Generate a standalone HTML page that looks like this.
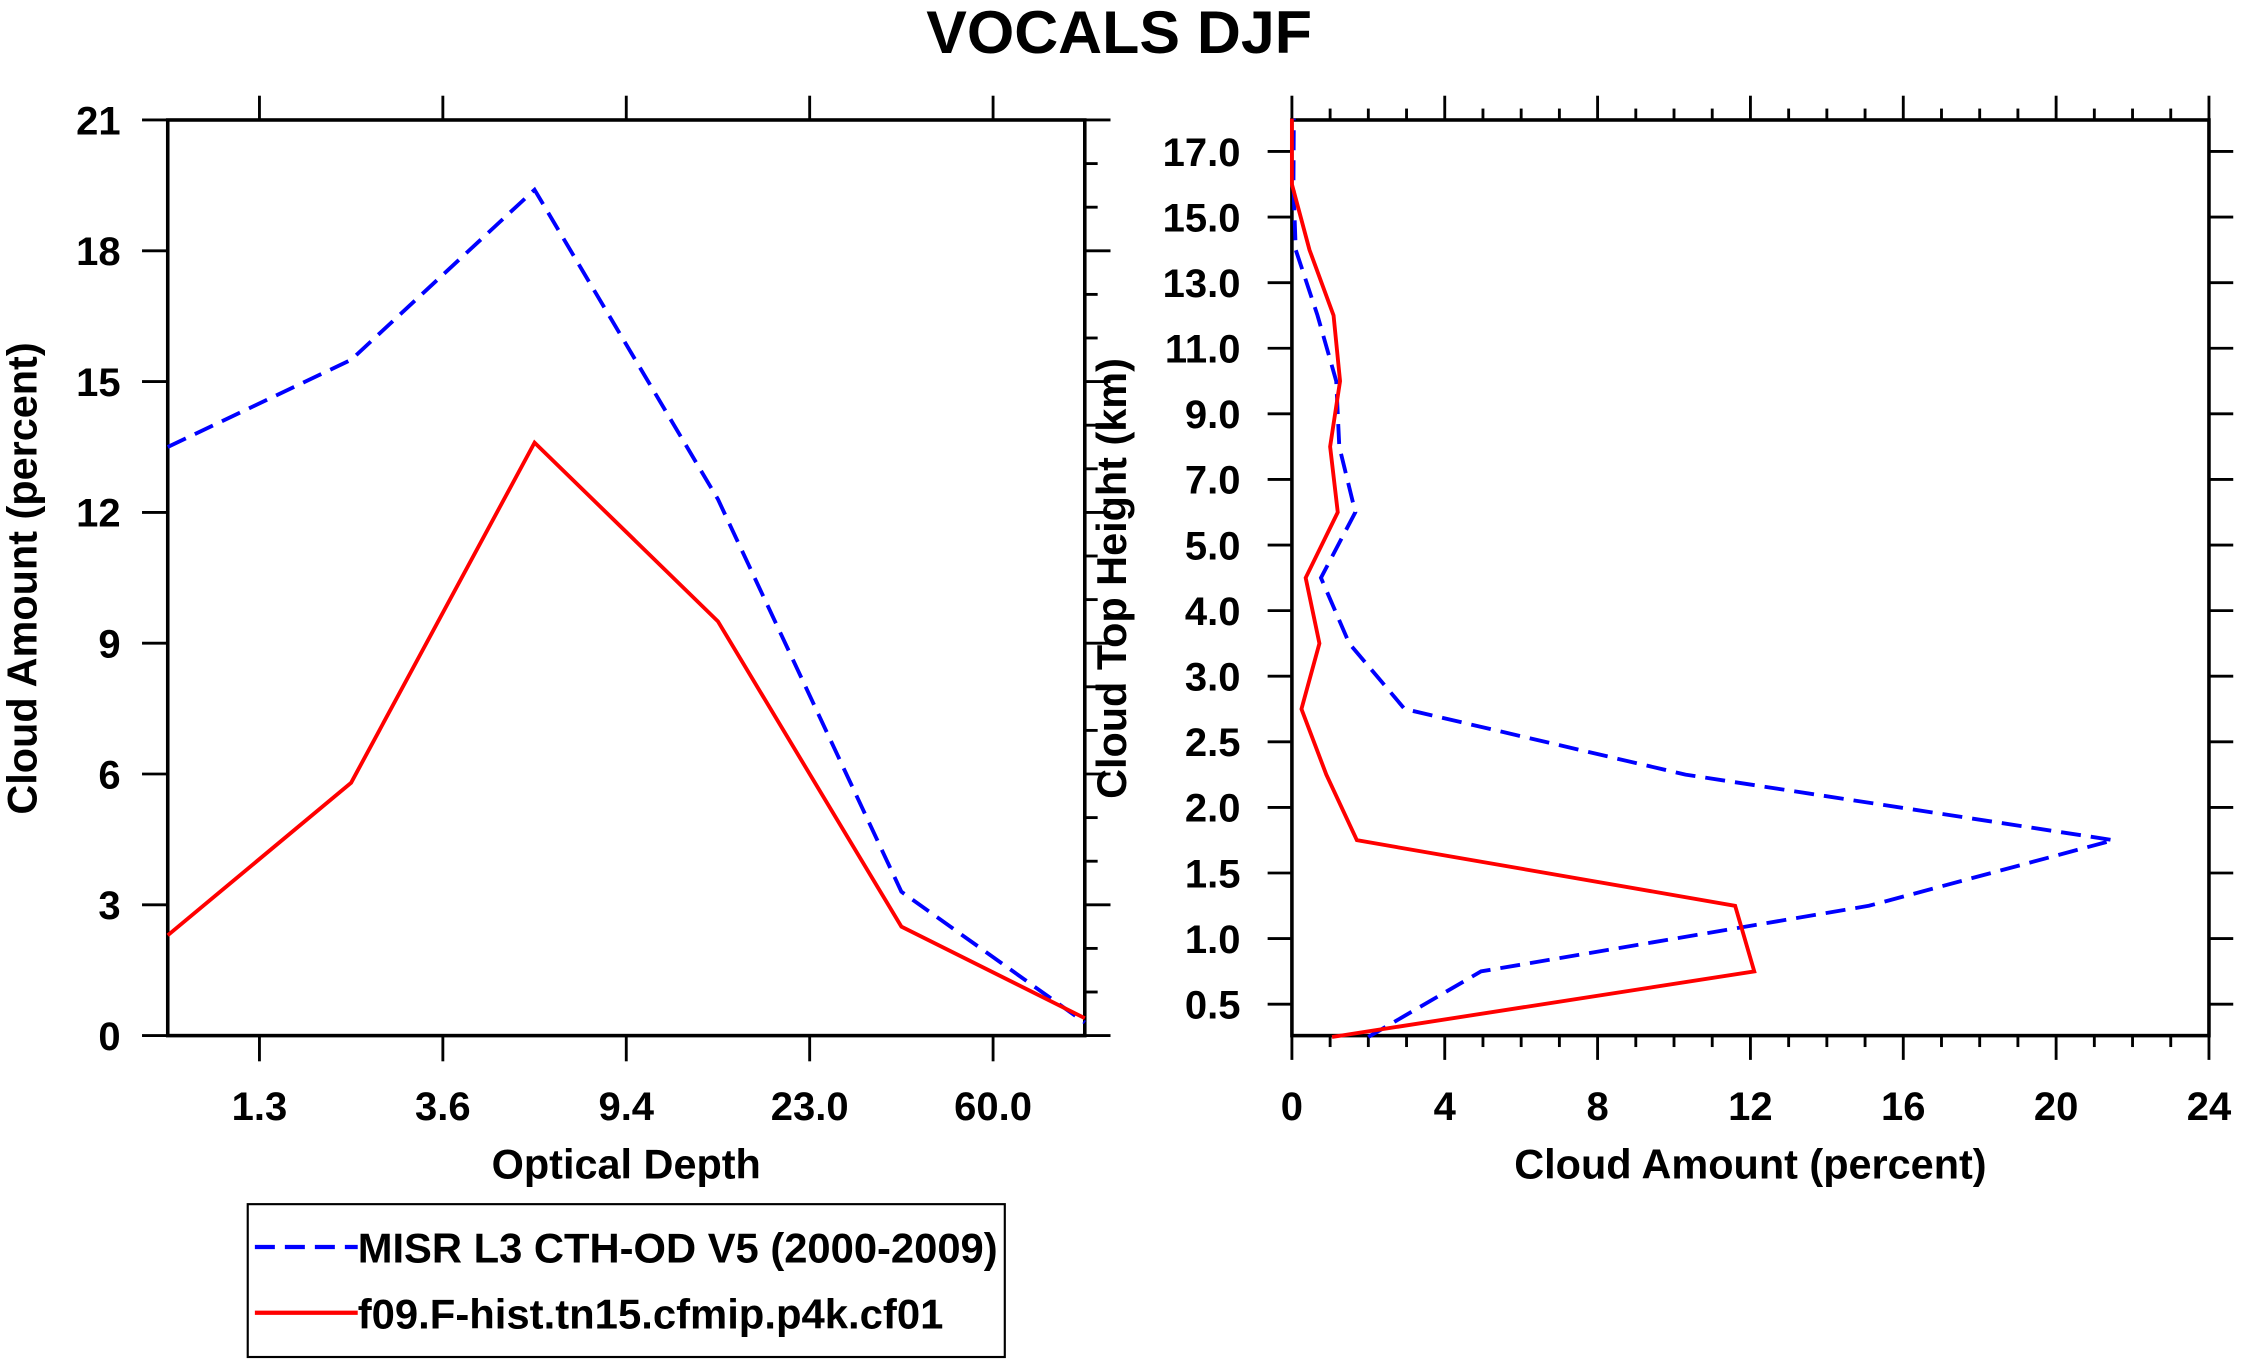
<!DOCTYPE html>
<html><head><meta charset="utf-8"><style>
html,body{margin:0;padding:0;background:#fff}
svg{display:block}
text{font-family:"Liberation Sans",sans-serif;font-weight:bold;fill:#000}
</style></head><body>
<svg id="chart" xmlns="http://www.w3.org/2000/svg" width="2241" height="1367" viewBox="0 0 1568 957">
<text x="783" y="37" text-anchor="middle" font-size="42" textLength="270" lengthAdjust="spacingAndGlyphs">VOCALS DJF</text>
<g id="left"></g>
<g id="right"></g>
<g>
<rect x="173" y="843" width="530" height="107" fill="none" stroke="#000" stroke-width="1.5"/>
<line x1="178" y1="873" x2="250" y2="873" stroke="#00f" stroke-width="3" stroke-dasharray="14,7"/>
<text x="250" y="884" font-size="29" textLength="448" lengthAdjust="spacingAndGlyphs">MISR L3 CTH-OD V5 (2000-2009)</text>
<line x1="178" y1="919" x2="250" y2="919" stroke="#f00" stroke-width="3"/>
<text x="250" y="930" font-size="29" textLength="410" lengthAdjust="spacingAndGlyphs">f09.F-hist.tn15.cfmip.p4k.cf01</text>
</g>
</svg>
<script>
// Left panel data
const odTickLabels = ["1.3","3.6","9.4","23.0","60.0"];
const odMisr = [13.5, 15.5, 19.4, 12.3, 3.3, 0.3];
const odModel = [2.3, 5.8, 13.6, 9.5, 2.5, 0.4];
const leftYTicks = [0,3,6,9,12,15,18,21];
// Right panel data
const cthTickLabels = ["0.5","1.0","1.5","2.0","2.5","3.0","4.0","5.0","7.0","9.0","11.0","13.0","15.0","17.0"];
const cthMisr = [2.0, 4.95, 15.1, 21.5, 10.3, 2.95, 1.5, 0.76, 1.66, 1.24, 1.16, 0.67, 0.1, 0.04, 0.05];
const cthModel = [1.05, 12.1, 11.6, 1.7, 0.9, 0.25, 0.72, 0.36, 1.2, 1.0, 1.26, 1.09, 0.46, 0.0, 0.0];
const rightXTicks = [0,4,8,12,16,20,24];

const NS="http://www.w3.org/2000/svg";
function mk(parent,tag,attrs){const e=document.createElementNS(NS,tag);for(const k in attrs)e.setAttribute(k,attrs[k]);parent.appendChild(e);return e;}
function ln(p,x1,y1,x2,y2,name){const e=mk(p,'line',{x1,y1,x2,y2,stroke:'#000','stroke-width':2});

return e;}

// LEFT
const L=document.getElementById('left');
const lx0=117,lx1=759,ly0=84,ly1=725;
const lxs=i=>lx0+(lx1-lx0)*i/5;
const lys=v=>ly1-(ly1-ly0)*v/21;
const lframe=mk(L,'rect',{x:lx0,y:ly0,width:lx1-lx0,height:ly1-ly0,fill:'none',stroke:'#000','stroke-width':2.5});


for(let v=0;v<=21;v++){
  const y=lys(v); const major=v%3===0;
  if(major){ln(L,lx0-18,y,lx0,y,'left-y-tick');}
  ln(L,lx1,y,lx1+(major?18:9),y,'left-y2-tick');
}
leftYTicks.forEach(v=>{const t=mk(L,'text',{x:lx0-33,y:lys(v)+10,'text-anchor':'end','font-size':28});t.textContent=String(v);

});
odTickLabels.forEach((s,i)=>{const x=lxs(i+0.5);
ln(L,x,ly0-17,x,ly0,'left-x2-tick');ln(L,x,ly1,x,ly1+18,'left-x-tick');
const t=mk(L,'text',{x:x,y:784,'text-anchor':'middle','font-size':28});t.textContent=s;

});
let t=mk(L,'text',{x:438,y:825,'text-anchor':'middle','font-size':29});t.textContent='Optical Depth';


t=mk(L,'text',{x:0,y:0,'text-anchor':'middle','font-size':29,transform:'translate(25,405) rotate(-90)'});t.textContent='Cloud Amount (percent)';


function series(p,arr,xf,yf,color,dash,name){
  const pts=arr.map((v,i)=>xf(v,i)+','+yf(v,i)).join(' ');
  const a={points:pts,fill:'none',stroke:color,'stroke-width':2.7,'stroke-linejoin':'miter'};
  if(dash)a['stroke-dasharray']=dash;
  const e=mk(p,'polyline',a);
  
  
}
series(L,odMisr,(v,i)=>lxs(i),(v)=>lys(v),'#00f','14,7','left-misr-line');
series(L,odModel,(v,i)=>lxs(i),(v)=>lys(v),'#f00',null,'left-model-line');

// RIGHT
const R=document.getElementById('right');
const rx0=904,rx1=1546,ry0=84,ry1=725;
const rxs=v=>rx0+(rx1-rx0)*v/24;
const rys=i=>703-i*45.92;
const rframe=mk(R,'rect',{x:rx0,y:ry0,width:rx1-rx0,height:ry1-ry0,fill:'none',stroke:'#000','stroke-width':2.5});


for(let v=0;v<=24;v++){
  const x=rxs(v);const major=v%4===0;
  ln(R,x,ry0-(major?17:8),x,ry0,'right-x2-tick');
  ln(R,x,ry1,x,ry1+(major?17:8),'right-x-tick');
}
rightXTicks.forEach(v=>{const t=mk(R,'text',{x:rxs(v),y:784,'text-anchor':'middle','font-size':28});t.textContent=String(v);

});
cthTickLabels.forEach((s,i)=>{const y=rys(i);
ln(R,rx0-17,y,rx0,y,'right-y-tick');ln(R,rx1,y,rx1+17,y,'right-y2-tick');
const t=mk(R,'text',{x:868,y:y+10,'text-anchor':'end','font-size':28});t.textContent=s;

});
t=mk(R,'text',{x:1225,y:825,'text-anchor':'middle','font-size':29});t.textContent='Cloud Amount (percent)';


t=mk(R,'text',{x:0,y:0,'text-anchor':'middle','font-size':29,transform:'translate(788,405) rotate(-90)'});t.textContent='Cloud Top Height (km)';


series(R,cthMisr,(v)=>rxs(v),(v,i)=>rys(i-0.5),'#00f','14,7','right-misr-line');
series(R,cthModel,(v)=>rxs(v),(v,i)=>rys(i-0.5),'#f00',null,'right-model-line');
</script>
</body></html>
